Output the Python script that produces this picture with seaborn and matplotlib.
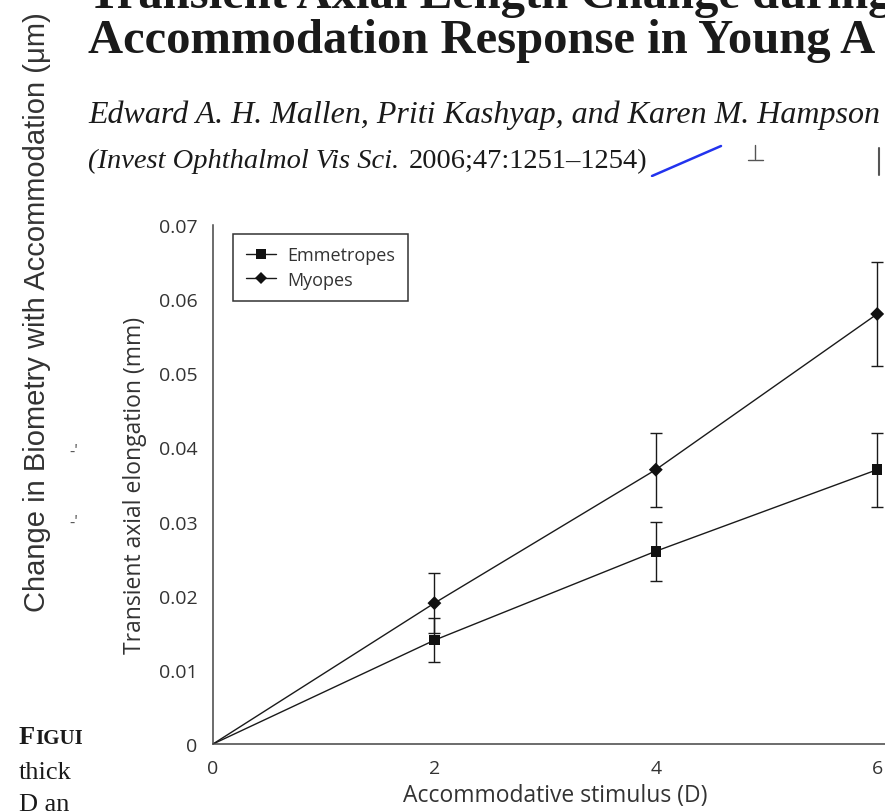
import matplotlib
matplotlib.use("Agg")
import matplotlib.pyplot as plt
from matplotlib.lines import Line2D
from matplotlib.patches import Rectangle
import pandas as pd
import seaborn as sns

# =========================
# DATA
# =========================

stimulus = [0, 2, 4, 6]
emmetropes = [0.0, 0.014, 0.026, 0.037]
emmetropes_err = [0.0, 0.003, 0.004, 0.005]
myopes = [0.0, 0.019, 0.037, 0.058]
myopes_err = [0.0, 0.004, 0.005, 0.007]

groups = ["Emmetropes", "Myopes"]
group_markers = {"Emmetropes": "s", "Myopes": "D"}

x_ticks = [0, 2, 4, 6]
y_ticks = [0, 0.01, 0.02, 0.03, 0.04, 0.05, 0.06, 0.07]
y_tick_labels = ["0", "0.01", "0.02", "0.03", "0.04", "0.05", "0.06", "0.07"]

df = pd.DataFrame({
    "stimulus": stimulus + stimulus,
    "elongation": emmetropes + myopes,
    "err": emmetropes_err + myopes_err,
    "group": [groups[0]] * len(stimulus) + [groups[1]] * len(stimulus),
})

# =========================
# STYLE
# =========================

sns.set_theme(style="white")
plt.rcParams["font.family"] = ["Open Sans", "DejaVu Sans"]

W, H = 885, 812
INK = "#1a1a1a"
GREY = "#333333"


def fx(x):
    return x / W


def fy(y):
    return 1 - y / H


fig = plt.figure(figsize=(W / 100, H / 100), dpi=100)
fig.patch.set_facecolor("white")

# =========================
# BACKGROUND PAGE FRAGMENTS
# =========================

serif = "Liberation Serif"
fig.text(fx(88), fy(8), "Transient Axial Length Change during",
         fontsize=35, fontweight="bold", family=serif, color=INK, va="baseline")
fig.text(fx(88), fy(53), "Accommodation Response in Young A",
         fontsize=35, fontweight="bold", family=serif, color=INK, va="baseline")
fig.text(fx(88), fy(123), "Edward A. H. Mallen, Priti Kashyap, and Karen M. Hampson",
         fontsize=23, style="italic", family=serif, color=INK, va="baseline")
fig.text(fx(88), fy(168), "(Invest Ophthalmol Vis Sci.",
         fontsize=20.5, style="italic", family=serif, color=INK, va="baseline")
fig.text(fx(409), fy(168), "2006;47:1251\u20131254)",
         fontsize=20.5, family=serif, color=INK, va="baseline")

fig.text(fx(37), fy(312), "Change in Biometry with Accommodation (\u03bcm)",
         fontsize=21, family="Liberation Sans", color=GREY,
         rotation=90, ha="center", va="center")
fig.text(fx(74), fy(452), "-'", fontsize=12, color="#555555", ha="center", va="center")
fig.text(fx(74), fy(523), "-'", fontsize=12, color="#555555", ha="center", va="center")

fig.text(fx(19), fy(744), "F", fontsize=19, fontweight="bold", family=serif,
         color=INK, va="baseline")
fig.text(fx(35), fy(744), "IGUI", fontsize=15, fontweight="bold", family=serif,
         color=INK, va="baseline")
fig.text(fx(19), fy(779), "thick", fontsize=19, family=serif, color=INK, va="baseline")
fig.text(fx(19), fy(811), "D an", fontsize=19, family=serif, color=INK, va="baseline")

fig.add_artist(Line2D([fx(652), fx(721)], [fy(177), fy(147)], color="#2233ee",
                      lw=1.8, transform=fig.transFigure, zorder=3))
fig.add_artist(Line2D([fx(755), fx(755)], [fy(146), fy(160)], color="#555555",
                      lw=1.0, transform=fig.transFigure, zorder=3))
fig.add_artist(Line2D([fx(748), fx(763)], [fy(161), fy(161)], color="#555555",
                      lw=1.0, transform=fig.transFigure, zorder=3))
fig.add_artist(Line2D([fx(879), fx(879)], [fy(149), fy(176)], color="#555555",
                      lw=1.5, transform=fig.transFigure, zorder=3))

# white panel of the pasted chart
fig.add_artist(Rectangle((fx(82), 0), 1 - fx(82), fy(178), transform=fig.transFigure,
                         facecolor="white", edgecolor="none", zorder=4))

# =========================
# CHART
# =========================

ax = fig.add_axes([fx(213), fy(745), fx(885) - fx(213), fy(226) - fy(745)])
ax.set_zorder(5)
ax.set_facecolor("white")

sns.lineplot(
    data=df, x="stimulus", y="elongation", hue="group",
    palette=[INK, INK], linewidth=1.0, legend=False, ax=ax
)

pts = df[df["err"] > 0]

ax.errorbar(
    pts["stimulus"], pts["elongation"], yerr=pts["err"],
    fmt="none", ecolor=INK, elinewidth=1.0, capsize=4.5, capthick=1.0, zorder=3
)

sns.scatterplot(
    data=pts, x="stimulus", y="elongation", style="group", size="group",
    markers=group_markers, sizes={"Emmetropes": 58, "Myopes": 50},
    color="#111111", linewidth=0, legend=False, zorder=4, ax=ax
)

ax.set_xlim(0, (885 - 213) / 110.7)
ax.set_ylim(0, 0.07)
ax.set_xticks(x_ticks)
ax.set_yticks(y_ticks)
ax.set_yticklabels(y_tick_labels)

sns.despine(ax=ax)
for side in ["left", "bottom"]:
    ax.spines[side].set_color("#444444")
    ax.spines[side].set_linewidth(1.1)

ax.tick_params(direction="out", length=4, width=1.1, color="#444444",
               labelcolor=GREY, labelsize=14, pad=7)

ax.set_xlabel("Accommodative stimulus (D)", fontsize=16.5, color=GREY)
ax.set_ylabel("Transient axial elongation (mm)", fontsize=16.5, color=GREY)
ax.xaxis.set_label_coords(0.51, -0.075)
ax.yaxis.set_label_coords(-0.098, 0.5)

handles = [
    Line2D([0], [0], color=INK, lw=1.0, marker="s", markersize=6.5,
           markerfacecolor="#111111", markeredgewidth=0),
    Line2D([0], [0], color=INK, lw=1.0, marker="D", markersize=6,
           markerfacecolor="#111111", markeredgewidth=0),
]
leg = ax.legend(
    handles, groups, loc="upper left", bbox_to_anchor=(0.0298, 0.983),
    borderaxespad=0, frameon=True, fancybox=False, edgecolor="#333333",
    fontsize=13, handlelength=1.7, handletextpad=0.6, borderpad=0.7,
    labelspacing=0.35, framealpha=1
)
leg.get_frame().set_linewidth(1.1)
for t in leg.get_texts():
    t.set_color(GREY)

fig.savefig("out.png", dpi=100, facecolor="white")
